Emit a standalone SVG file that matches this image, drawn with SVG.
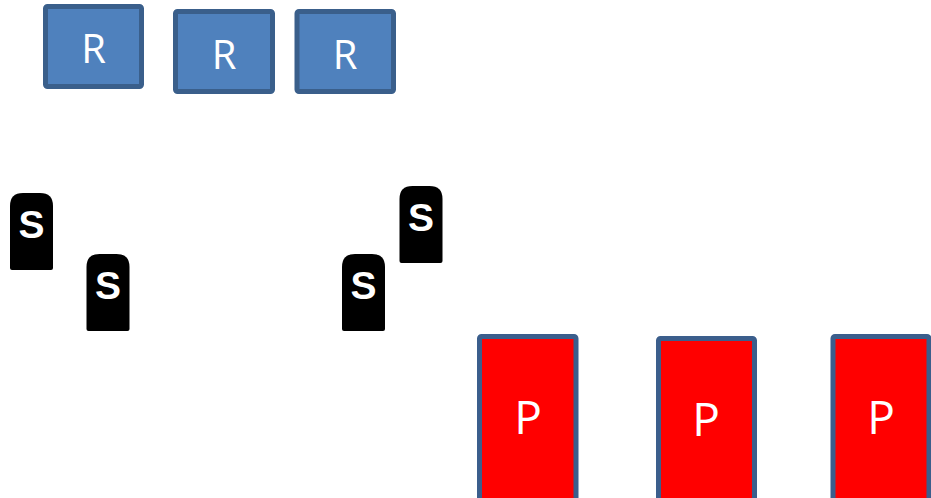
<svg xmlns="http://www.w3.org/2000/svg" width="931" height="498" viewBox="0 0 931 498">
<style>
.r{fill:#4F81BD;stroke:#3A5F8B;stroke-width:5}
.p{fill:#FF0000;stroke:#3B5E8C;stroke-width:5}
.t{fill:#FFFFFF;font-family:"Open Sans","Liberation Sans",sans-serif;text-anchor:middle}
.s{fill:#FFFFFF;font-family:"Liberation Sans",Arial,sans-serif;font-weight:bold;font-size:39px;text-anchor:middle}
</style>
<defs>
<path id="tomb" d="M0,75 V13 Q0,0 13,0 H30 Q43,0 43,13 V75 Q43,77 41,77 H2 Q0,77 0,75 Z" fill="#000000"/>
</defs>
<g id="R1"><rect class="r" x="45.5" y="6.5" width="96" height="80" rx="2"/><text class="t" x="93.5" y="63" font-size="40">R</text></g>
<g id="R2"><rect class="r" x="175.5" y="11.5" width="97" height="80" rx="2"/><text class="t" x="224" y="69" font-size="40">R</text></g>
<g id="R3"><rect class="r" x="297" y="11.5" width="96.5" height="80" rx="2"/><text class="t" x="345" y="69" font-size="40">R</text></g>
<g id="S1"><use href="#tomb" x="10" y="193"/><text class="s" x="31.5" y="238">S</text></g>
<g id="S2"><use href="#tomb" x="86.5" y="254"/><text class="s" x="108" y="299">S</text></g>
<g id="S3"><use href="#tomb" x="399.5" y="186"/><text class="s" x="421" y="231">S</text></g>
<g id="S4"><use href="#tomb" x="342" y="254"/><text class="s" x="363.5" y="299">S</text></g>
<g id="P1"><rect class="p" x="479.5" y="336.5" width="96.5" height="170" rx="2"/><text class="t" x="528" y="434" font-size="46">P</text></g>
<g id="P2"><rect class="p" x="658.5" y="338.5" width="96" height="170" rx="2"/><text class="t" x="706" y="436" font-size="46">P</text></g>
<g id="P3"><rect class="p" x="833" y="336.5" width="96" height="170" rx="2"/><text class="t" x="881" y="434" font-size="46">P</text></g>
<g id="connectors"/>
</svg>
